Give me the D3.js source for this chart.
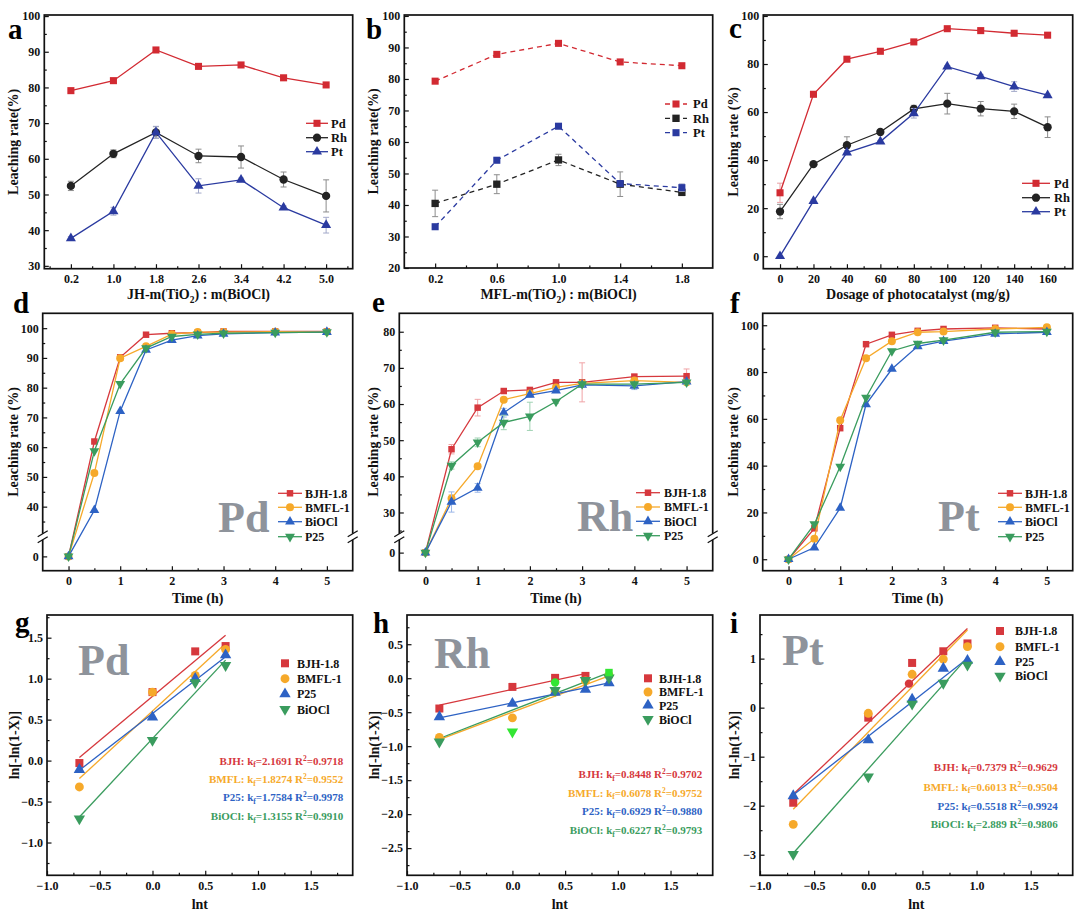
<!DOCTYPE html>
<html>
<head>
<meta charset="utf-8">
<script src="https://cdnjs.cloudflare.com/ajax/libs/d3/7.8.5/d3.min.js"></script>
<style>
  body { margin: 0; background: #fff; }
</style>
</head>
<body>
<div id="chart"></div>
<script>
// ---------- data: panel a (JH ratio) ----------
const aRatio = [0.2, 1.0, 1.8, 2.6, 3.4, 4.2, 5.0];
const aPd = [79.1, 81.9, 90.5, 85.9, 86.3, 82.7, 80.7];
const aPdErr = [0.4, 0.4, 0.5, 0.4, 0.4, 0.4, 0.4];
const aRh = [52.4, 61.4, 67.4, 60.8, 60.5, 54.2, 49.6];
const aRhErr = [1.3, 1.1, 1.6, 1.9, 3.1, 2.1, 4.5];
const aPt = [37.7, 45.3, 67.4, 52.4, 54.1, 46.3, 41.4];
const aPtErr = [0.5, 1.1, 1.7, 2.0, 0.5, 0.5, 2.2];

// ---------- data: panel b (MFL ratio) ----------
const bRatio = [0.2, 0.6, 1.0, 1.4, 1.8];
const bPd = [79.3, 87.8, 91.3, 85.4, 84.2];
const bPdErr = [0.4, 0.4, 0.4, 0.4, 0.4];
const bRh = [40.5, 46.6, 54.3, 46.6, 44.0];
const bRhErr = [4.2, 3.0, 1.8, 3.9, 1.0];
const bPt = [33.1, 54.2, 65.0, 46.8, 45.5];
const bPtErr = [0.5, 0.5, 0.5, 0.5, 1.2];

// ---------- data: panel c (dosage) ----------
const cDose = [0, 20, 40, 60, 80, 100, 120, 140, 160];
const cPd = [26.4, 67.4, 82.0, 85.3, 89.2, 94.7, 93.9, 92.8, 92.0];
const cPdErr = [4.0, 0.5, 0.5, 0.5, 0.5, 0.5, 0.5, 0.5, 0.5];
const cRh = [18.6, 38.3, 46.2, 51.7, 61.3, 63.5, 61.4, 60.3, 53.7];
const cRhErr = [3.0, 0.8, 3.5, 0.8, 1.5, 4.3, 3.0, 3.0, 4.3];
const cPt = [0, 22.9, 43.1, 47.7, 59.5, 78.9, 74.9, 70.6, 67.0];
const cPtErr = [0, 0.5, 0.8, 0.5, 2.0, 0.5, 0.8, 2.0, 0.5];

// ---------- data: panels d-f (time course) ----------
const time = [0, 0.5, 1, 1.5, 2, 2.5, 3, 4, 5];
const dBJH = [0, 61.9, 90.2, 97.8, 98.3, 98.5, 98.9, 98.9, 98.9];
const dBMFL = [0, 51.3, 89.9, 93.9, 98.0, 98.7, 98.7, 98.8, 98.8];
const dBiOCl = [0, 38.8, 72.1, 92.7, 96.0, 97.5, 98.1, 98.5, 98.7];
const dP25 = [0, 58.7, 81.3, 93.3, 97.2, 97.9, 98.3, 98.5, 98.7];

const eBJH = [0, 47.5, 59.0, 63.6, 63.9, 66.0, 66.0, 67.6, 67.7];
const eBJHErr = [0, 1.3, 2.3, 0.5, 0.5, 0.5, 5.4, 0.5, 2.0];
const eBMFL = [0, 33.9, 42.8, 61.2, 62.9, 64.6, 65.7, 66.5, 66.0];
const eBMFLErr = [0, 1.0, 0.5, 0.5, 0.5, 0.5, 0.5, 0.5, 0.5];
const eBiOCl = [0, 32.9, 36.8, 57.6, 62.5, 63.7, 65.3, 65.0, 66.2];
const eBiOClErr = [0, 2.8, 1.2, 1.2, 0.5, 0.5, 0.5, 1.0, 0.5];
const eP25 = [0, 43.0, 49.4, 54.9, 56.6, 60.7, 65.5, 65.5, 66.0];
const eP25Err = [0, 1.0, 1.2, 2.0, 3.9, 0.5, 0.5, 0.5, 0.5];

const fBJH = [0, 13.2, 56.0, 91.9, 95.9, 97.6, 98.4, 98.9, 98.4];
const fBMFL = [0, 8.8, 59.4, 85.9, 93.2, 97.0, 97.3, 98.4, 99.1];
const fBiOCl = [0, 5.0, 21.9, 66.2, 81.3, 91.0, 93.2, 96.3, 97.0];
const fP25 = [0, 15.0, 39.6, 69.1, 89.0, 92.2, 93.6, 97.0, 97.3];

// ---------- data: panels g-i (kinetics, lnt) ----------
const lnt = [-0.693, 0, 0.405, 0.693, 0.916];

const gBJH = [-0.03, 0.836, 1.333, 1.398];
const gBMFL = [-0.322, 0.836, 1.04, 1.357];
const gP25 = [-0.11, 0.53, 1.0, 1.288];
const gBiOCl = [-0.709, 0.249, 0.954, 1.162];
const gFitSlope = [1.077, 1.19, 1.0, 1.382];
const gFitIntercept = [0.783, 0.605, 0.575, 0.269];
const gFitEnd = [0.693, 0.693, 0.693, 0.693];
const gK = ["2.1691", "1.8274", "1.7584", "1.3155"];
const gR2 = ["0.9718", "0.9552", "0.9978", "0.9910"];

const hBJH = [-0.446, -0.128, 0.005, 0.034, null];
const hBMFL = [-0.872, -0.583, -0.2, -0.04, 0.044];
const hP25 = [-0.569, -0.373, -0.21, -0.166, -0.069];
const hBiOCl = [-0.936, null, -0.176, -0.03, 0.005];
const hLimeX = [0, 0.405, 0.916];
const hLimeY = [-0.79, -0.064, 0.083];
const hLimeShape = ["down", "circle", "square"];
const hFitSlope = [0.336, 0.582, 0.319, 0.603];
const hFitIntercept = [-0.164, -0.499, -0.362, -0.469];
const hFitEnd = [0.693, 0.916, 0.916, 0.916];
const hK = ["0.8448", "0.6078", "0.6929", "0.6227"];
const hR2 = ["0.9702", "0.9752", "0.9880", "0.9793"];

const iBJH = [-1.94, -0.204, 0.912, 1.15, 1.31];
const iBMFL = [-2.38, -0.115, 0.68, 0.99, 1.245];
const iP25 = [-1.8, -0.66, 0.17, 0.80, 0.96];
const iBiOCl = [-2.99, -1.41, 0.075, 0.5, 0.87];
const iExtraX = [0.376];
const iExtraY = [0.49];
const iFitSlope = [2.10, 2.274, 1.73, 2.482];
const iFitIntercept = [-0.31, -0.498, -0.584, -1.249];
const iFitEnd = [0.916, 0.916, 0.916, 0.916];
const iK = ["0.7379", "0.6013", "0.5518", "2.889"];
const iR2 = ["0.9629", "0.9504", "0.9924", "0.9806"];

// ---------- drawing ----------
const FONT = '"Times New Roman","Liberation Serif",serif';
const INK = "#111";
const COL = {
  red: "#d22a32", black: "#232323", navy: "#2a3aa0",
  bjh: "#d6383d", bmfl: "#f6a92a", bio: "#2d62c4", p25: "#3a9c5e",
  lime: "#33e633", mark: "#8e939b"
};

const svg = d3.select("#chart").append("svg").attr("width", 1080).attr("height", 914);
svg.append("rect").attr("width", 1080).attr("height", 914).attr("fill", "#fff");

function marker(g, type, cx, cy, color, size) {
  const t = { square: d3.symbolSquare, circle: d3.symbolCircle, up: d3.symbolTriangle, down: d3.symbolTriangle }[type];
  g.append("path")
    .attr("d", d3.symbol().type(t).size(size)())
    .attr("transform", `translate(${cx},${cy})` + (type === "down" ? " rotate(180)" : ""))
    .attr("fill", color);
}

function styleAxis(a) {
  a.select(".domain").remove();
  a.selectAll("line").attr("stroke", INK).attr("stroke-width", 1.2);
  a.selectAll("text").attr("font-family", FONT).attr("font-weight", "bold")
    .attr("font-size", 12).attr("fill", INK);
}

function drawX(g, box, x, ticks, minor, fmt) {
  g.append("g").attr("transform", `translate(0,${box.B})`)
    .call(d3.axisBottom(x).tickValues(ticks).tickFormat(fmt).tickSizeInner(-4.5).tickSizeOuter(0).tickPadding(6))
    .call(styleAxis);
  g.append("g").attr("transform", `translate(0,${box.B})`)
    .call(d3.axisBottom(x).tickValues(minor).tickFormat(() => "").tickSizeInner(-2.5).tickSizeOuter(0))
    .call(styleAxis);
}

function drawY(g, box, y, ticks, minor, fmt) {
  g.append("g").attr("transform", `translate(${box.L},0)`)
    .call(d3.axisLeft(y).tickValues(ticks).tickFormat(fmt).tickSizeInner(-4.5).tickSizeOuter(0).tickPadding(4))
    .call(styleAxis);
  g.append("g").attr("transform", `translate(${box.L},0)`)
    .call(d3.axisLeft(y).tickValues(minor).tickFormat(() => "").tickSizeInner(-2.5).tickSizeOuter(0))
    .call(styleAxis);
}

function richText(g, parts, attrs) {
  // parts: [text, "sub"|"sup"|null]
  const t = g.append("text").attr("font-family", FONT).attr("font-weight", "bold").attr("fill", attrs.fill || INK);
  Object.entries(attrs).forEach(([k, v]) => { if (k !== "fill") t.attr(k, v); });
  const fs = attrs["font-size"];
  let shift = 0;
  parts.forEach(([s, kind]) => {
    const target = kind === "sub" ? fs * 0.25 : kind === "sup" ? -fs * 0.38 : 0;
    const sp = t.append("tspan").attr("dy", target - shift).text(s);
    if (kind) sp.attr("font-size", fs * 0.68);
    shift = target;
  });
  return t;
}

function titles(g, p) {
  const b = p.box;
  richText(g, p.xTitle, { x: (b.L + b.R) / 2, y: p.xTitleY, "text-anchor": "middle", "font-size": 14 });
  g.append("text").attr("transform", `translate(${p.yTitleX},${(b.T + b.B) / 2}) rotate(-90)`)
    .attr("text-anchor", "middle").attr("font-family", FONT).attr("font-weight", "bold")
    .attr("font-size", 14).attr("fill", INK).text(p.yTitle);
  g.append("text").attr("x", p.tag[1]).attr("y", p.tag[2]).attr("font-family", FONT)
    .attr("font-weight", "bold").attr("font-size", 29).attr("fill", "#000").text(p.tag[0]);
  if (p.watermark) {
    g.append("text").attr("x", p.watermark[1]).attr("y", p.watermark[2]).attr("font-family", FONT)
      .attr("font-weight", "bold").attr("font-size", 44).attr("fill", COL.mark).text(p.watermark[0]);
  }
}

function frame(g, box) {
  g.append("rect").attr("x", box.L).attr("y", box.T).attr("width", box.R - box.L).attr("height", box.B - box.T)
    .attr("fill", "none").attr("stroke", INK).attr("stroke-width", 1.7);
}

function breakMark(g, x, y) {
  g.append("rect").attr("x", x - 3).attr("y", y - 3).attr("width", 6).attr("height", 6).attr("fill", "#fff");
  [-3, 3].forEach(d => g.append("line")
    .attr("x1", x - 5).attr("y1", y + d + 3).attr("x2", x + 5).attr("y2", y + d - 3)
    .attr("stroke", INK).attr("stroke-width", 1.3));
}

function linePanel(p) {
  const g = svg.append("g");
  const b = p.box;
  const x = d3.scaleLinear().domain(p.xDomain).range([b.L, b.R]);
  let yFn;
  drawX(g, b, x, p.xTicks, p.xMinor, p.xFmt);
  if (p.brk) {
    const up = d3.scaleLinear().domain(p.brk.up).range([p.brk.at, b.T]);
    const low = d3.scaleLinear().domain(p.brk.low).range([b.B, p.brk.at]);
    yFn = v => (v <= p.brk.low[1] ? low(v) : up(v));
    drawY(g, b, up, p.yTicks, p.yMinor, p.yFmt);
    drawY(g, b, low, [0], [], p.yFmt);
  } else {
    const y = d3.scaleLinear().domain(p.yDomain).range([b.B, b.T]);
    yFn = y;
    drawY(g, b, y, p.yTicks, p.yMinor, p.yFmt);
  }
  p.series.forEach(s => {
    const pts = p.x.map((xv, i) => ({ x: xv, y: s.y[i], e: s.err ? s.err[i] : 0 }));
    pts.filter(d => d.e > 0).forEach(d => {
      const cx = x(d.x), y0 = yFn(d.y - d.e), y1 = yFn(d.y + d.e);
      g.append("line").attr("x1", cx).attr("x2", cx).attr("y1", y0).attr("y2", y1).attr("stroke", s.errColor).attr("stroke-width", 1);
      [y0, y1].forEach(yy => g.append("line").attr("x1", cx - 3).attr("x2", cx + 3).attr("y1", yy).attr("y2", yy)
        .attr("stroke", s.errColor).attr("stroke-width", 1));
    });
    g.append("path").datum(pts)
      .attr("d", d3.line().x(d => x(d.x)).y(d => yFn(d.y)))
      .attr("fill", "none").attr("stroke", s.color).attr("stroke-width", 1.3)
      .attr("stroke-dasharray", p.dash || null);
    pts.forEach(d => marker(g, s.shape, x(d.x), yFn(d.y), s.color, s.size));
  });
  frame(g, b);
  if (p.brk) { breakMark(g, b.L, p.brk.at); breakMark(g, b.R, p.brk.at); }
  const L = p.legend;
  p.series.forEach((s, i) => {
    const ly = L.ys[i];
    g.append("line").attr("x1", L.x0).attr("x2", L.x1).attr("y1", ly).attr("y2", ly)
      .attr("stroke", s.color).attr("stroke-width", 1.3).attr("stroke-dasharray", p.dash || null);
    marker(g, s.shape, (L.x0 + L.x1) / 2, ly, s.color, s.size);
    g.append("text").attr("x", L.tx).attr("y", ly).attr("dy", "0.35em").attr("font-family", FONT)
      .attr("font-weight", "bold").attr("font-size", p.legendFont || 12).attr("fill", INK).text(s.name);
  });
  titles(g, p);
}

function fitPanel(p) {
  const g = svg.append("g");
  const b = p.box;
  const x = d3.scaleLinear().domain(p.xDomain).range([b.L, b.R]);
  const y = d3.scaleLinear().domain(p.yDomain).range([b.B, b.T]);
  drawX(g, b, x, p.xTicks, p.xMinor, d3.format(".1f"));
  drawY(g, b, y, p.yTicks, p.yMinor, p.yFmt);
  p.series.forEach((s, i) => {
    const x0 = p.x[0], x1 = p.fitEnd[i];
    g.append("line").attr("x1", x(x0)).attr("x2", x(x1))
      .attr("y1", y(p.fitIntercept[i] + p.fitSlope[i] * x0)).attr("y2", y(p.fitIntercept[i] + p.fitSlope[i] * x1))
      .attr("stroke", s.color).attr("stroke-width", 1.3);
  });
  p.series.forEach(s => {
    s.y.forEach((v, i) => { if (v !== null && v !== undefined) marker(g, s.shape, x(p.x[i]), y(v), s.color, s.size); });
  });
  (p.extras || []).forEach(e => e.x.forEach((xv, i) => marker(g, e.shape[i], x(xv), y(e.y[i]), e.color, e.size)));
  frame(g, b);
  const L = p.legend;
  p.series.forEach((s, i) => {
    marker(g, s.shape, L.mx, L.ys[i], s.color, s.size);
    g.append("text").attr("x", L.tx).attr("y", L.ys[i]).attr("dy", "0.35em").attr("font-family", FONT)
      .attr("font-weight", "bold").attr("font-size", 12).attr("fill", INK).text(s.name);
  });
  p.series.forEach((s, i) => {
    richText(g, [[s.short + ": k", null], ["f", "sub"], ["=" + p.k[i] + " R", null], ["2", "sup"], ["=" + p.r2[i], null]],
      { x: p.annot.x, y: p.annot.ys[i] + 4, "text-anchor": "end", "font-size": 11, fill: s.color });
  });
  titles(g, p);
}

const fmtD = d3.format("d"), fmt1 = d3.format(".1f");
const range = (a, b, s) => d3.range(a, b + s / 2, s).map(v => +v.toFixed(4));
const leachTitle = "Leaching rate (%)";
const ratioSeries = (pd, pdE, rh, rhE, pt, ptE, ptShape, dashNavy) => [
  { name: "Pd", y: pd, err: pdE, color: COL.red, errColor: "#e9a0a5", shape: "square", size: 50 },
  { name: "Rh", y: rh, err: rhE, color: COL.black, errColor: "#8c8c8c", shape: ptShape === "square" ? "square" : "circle", size: 54 },
  { name: "Pt", y: pt, err: ptE, color: dashNavy, errColor: "#a3a9c9", shape: ptShape, size: ptShape === "square" ? 50 : 44 }
];

// panel a
linePanel({
  box: { L: 44.3, R: 352.7, T: 15, B: 268.7 }, x: aRatio,
  xDomain: [-0.3, 5.5], yDomain: [29.2, 100.3],
  xTicks: aRatio, xMinor: [-0.2, 0.6, 1.4, 2.2, 3.0, 3.8, 4.6, 5.4], xFmt: fmt1,
  yTicks: range(30, 100, 10), yMinor: range(35, 95, 10), yFmt: fmtD,
  series: ratioSeries(aPd, aPdErr, aRh, aRhErr, aPt, aPtErr, "up", COL.navy),
  legend: { x0: 306, x1: 328, tx: 331, ys: [123.3, 137.7, 151.7] }, legendFont: 12.5,
  xTitle: [["JH-m(TiO", null], ["2", "sub"], [") : m(BiOCl)", null]], xTitleY: 299,
  yTitle: "Leaching rate(%)", yTitleX: 18, tag: ["a", 8, 39]
});

// panel b
linePanel({
  box: { L: 404.3, R: 712.7, T: 15, B: 268 }, x: bRatio, dash: "5,4",
  xDomain: [0, 2.0], yDomain: [20, 100.3],
  xTicks: bRatio, xMinor: [0.4, 0.8, 1.2, 1.6], xFmt: fmt1,
  yTicks: range(20, 100, 10), yMinor: range(25, 95, 10), yFmt: fmtD,
  series: ratioSeries(bPd, bPdErr, bRh, bRhErr, bPt, bPtErr, "square", COL.navy),
  legend: { x0: 665, x1: 687, tx: 693, ys: [104, 118.3, 132.7] }, legendFont: 12.5,
  xTitle: [["MFL-m(TiO", null], ["2", "sub"], [") : m(BiOCl)", null]], xTitleY: 299,
  yTitle: "Leaching rate(%)", yTitleX: 378, tag: ["b", 366, 39]
});

// panel c
linePanel({
  box: { L: 763.3, R: 1072.7, T: 15, B: 268.7 }, x: cDose,
  xDomain: [-10, 175], yDomain: [-5.2, 100.4],
  xTicks: cDose, xMinor: range(10, 170, 20), xFmt: fmtD,
  yTicks: range(0, 100, 20), yMinor: range(10, 90, 20), yFmt: fmtD,
  series: ratioSeries(cPd, cPdErr, cRh, cRhErr, cPt, cPtErr, "up", COL.navy),
  legend: { x0: 1022, x1: 1050, tx: 1054, ys: [183.3, 197.7, 211.7] }, legendFont: 12.5,
  xTitle: [["Dosage of photocatalyst (mg/g)", null]], xTitleY: 299,
  yTitle: leachTitle, yTitleX: 738, tag: ["c", 729, 38]
});

const timeSeries = (bjh, bmfl, bio, p25, errs) => [
  { name: "BJH-1.8", y: bjh, err: errs && errs[0], color: COL.bjh, errColor: "#f0a3a6", shape: "square", size: 42 },
  { name: "BMFL-1", y: bmfl, err: errs && errs[1], color: COL.bmfl, errColor: "#f8d08c", shape: "circle", size: 50 },
  { name: "BiOCl", y: bio, err: errs && errs[2], color: COL.bio, errColor: "#9db8e8", shape: "up", size: 42 },
  { name: "P25", y: p25, err: errs && errs[3], color: COL.p25, errColor: "#9fd2b3", shape: "down", size: 42 }
];

// panel d
linePanel({
  box: { L: 42.7, R: 352.7, T: 313.3, B: 570.7 }, x: time,
  xDomain: [-0.5, 5.5], brk: { at: 536.7, up: [29.9, 105], low: [-4.8, 6.6] },
  xTicks: [0, 1, 2, 3, 4, 5], xMinor: [0.5, 1.5, 2.5, 3.5, 4.5], xFmt: fmtD,
  yTicks: range(40, 100, 10), yMinor: range(35, 95, 10), yFmt: fmtD,
  series: timeSeries(dBJH, dBMFL, dBiOCl, dP25),
  legend: { x0: 278, x1: 302, tx: 305, ys: [493.3, 507.3, 521.7, 536.7] },
  xTitle: [["Time (h)", null]], xTitleY: 603,
  yTitle: leachTitle, yTitleX: 18, tag: ["d", 13, 313], watermark: ["Pd", 218, 531.7]
});

// panel e
linePanel({
  box: { L: 399.3, R: 712.7, T: 313.3, B: 570.7 }, x: time,
  xDomain: [-0.5, 5.5], brk: { at: 536.7, up: [23.3, 85.1], low: [-5, 4.4] },
  xTicks: [0, 1, 2, 3, 4, 5], xMinor: [0.5, 1.5, 2.5, 3.5, 4.5], xFmt: fmtD,
  yTicks: range(30, 80, 10), yMinor: range(25, 75, 10), yFmt: fmtD,
  series: timeSeries(eBJH, eBMFL, eBiOCl, eP25, [eBJHErr, eBMFLErr, eBiOClErr, eP25Err]),
  legend: { x0: 636, x1: 660, tx: 664, ys: [492.7, 507, 521.3, 535.7] },
  xTitle: [["Time (h)", null]], xTitleY: 603,
  yTitle: leachTitle, yTitleX: 378, tag: ["e", 372, 311.7], watermark: ["Rh", 577, 530.7]
});

// panel f
linePanel({
  box: { L: 762.7, R: 1072.7, T: 313.3, B: 570.7 }, x: time,
  xDomain: [-0.5, 5.5], yDomain: [-4.9, 105.1],
  xTicks: [0, 1, 2, 3, 4, 5], xMinor: [0.5, 1.5, 2.5, 3.5, 4.5], xFmt: fmtD,
  yTicks: range(0, 100, 20), yMinor: range(10, 90, 20), yFmt: fmtD,
  series: timeSeries(fBJH, fBMFL, fBiOCl, fP25),
  legend: { x0: 998, x1: 1022, tx: 1025, ys: [493.3, 507.3, 521.7, 536.7] },
  xTitle: [["Time (h)", null]], xTitleY: 603,
  yTitle: leachTitle, yTitleX: 738, tag: ["f", 730, 313], watermark: ["Pt", 938, 530.7]
});

const kinSeries = (bjh, bmfl, p25, bio) => [
  { name: "BJH-1.8", short: "BJH", y: bjh, color: COL.bjh, shape: "square", size: 64 },
  { name: "BMFL-1", short: "BMFL", y: bmfl, color: COL.bmfl, shape: "circle", size: 62 },
  { name: "P25", short: "P25", y: p25, color: COL.bio, shape: "up", size: 56 },
  { name: "BiOCl", short: "BiOCl", y: bio, color: COL.p25, shape: "down", size: 56 }
];
const lnTicks = [-1, -0.5, 0, 0.5, 1, 1.5];
const lnMinor = [-0.75, -0.25, 0.25, 0.75, 1.25, 1.75];

// panel g
fitPanel({
  box: { L: 47, R: 352.7, T: 615, B: 875.3 }, x: lnt,
  xDomain: [-1, 1.898], yDomain: [-1.40, 1.777],
  xTicks: lnTicks, xMinor: lnMinor,
  yTicks: [-1, -0.5, 0, 0.5, 1, 1.5], yMinor: [-1.25, -0.75, -0.25, 0.25, 0.75, 1.25, 1.75], yFmt: fmt1,
  series: kinSeries(gBJH, gBMFL, gP25, gBiOCl),
  fitSlope: gFitSlope, fitIntercept: gFitIntercept, fitEnd: gFitEnd, k: gK, r2: gR2,
  legend: { mx: 285, tx: 297, ys: [663.3, 678.7, 694, 709.3] },
  annot: { x: 343.3, ys: [760.7, 779, 797.3, 816] },
  xTitle: [["lnt", null]], xTitleY: 909,
  yTitle: "ln[-ln(1-X)]", yTitleX: 19, tag: ["g", 15, 632], watermark: ["Pd", 78, 675]
});

// panel h
fitPanel({
  box: { L: 407, R: 712.7, T: 615, B: 875.3 }, x: lnt,
  xDomain: [-1, 1.9], yDomain: [-2.9, 0.93],
  xTicks: lnTicks, xMinor: lnMinor,
  yTicks: [-2.5, -2, -1.5, -1, -0.5, 0, 0.5], yMinor: [-2.75, -2.25, -1.75, -1.25, -0.75, -0.25, 0.25, 0.75], yFmt: fmt1,
  series: kinSeries(hBJH, hBMFL, hP25, hBiOCl),
  extras: [{ x: hLimeX, y: hLimeY, shape: hLimeShape, color: COL.lime, size: 56 }],
  fitSlope: hFitSlope, fitIntercept: hFitIntercept, fitEnd: hFitEnd, k: hK, r2: hR2,
  legend: { mx: 648, tx: 659, ys: [678.3, 692, 705.3, 719.3] },
  annot: { x: 702.3, ys: [774, 792.7, 811.3, 830] },
  xTitle: [["lnt", null]], xTitleY: 909,
  yTitle: "ln[-ln(1-X)]", yTitleX: 379, tag: ["h", 373, 632.7], watermark: ["Rh", 434, 668]
});

// panel i
fitPanel({
  box: { L: 760, R: 1072.7, T: 615, B: 875.3 }, x: lnt,
  xDomain: [-1, 1.888], yDomain: [-3.42, 1.89],
  xTicks: lnTicks, xMinor: lnMinor,
  yTicks: [-3, -2, -1, 0, 1], yMinor: [-2.5, -1.5, -0.5, 0.5, 1.5], yFmt: fmtD,
  series: kinSeries(iBJH, iBMFL, iP25, iBiOCl),
  extras: [{ x: iExtraX, y: iExtraY, shape: ["circle"], color: COL.bjh, size: 56 }],
  fitSlope: iFitSlope, fitIntercept: iFitIntercept, fitEnd: iFitEnd, k: iK, r2: iR2,
  legend: { mx: 1000, tx: 1015, ys: [631, 646.7, 661.7, 676] },
  annot: { x: 1057.7, ys: [767.3, 786.7, 805.7, 824.3] },
  xTitle: [["lnt", null]], xTitleY: 909,
  yTitle: "ln[-ln(1-X)]", yTitleX: 739, tag: ["i", 730, 632.7], watermark: ["Pt", 782, 665]
});
</script>
</body>
</html>
